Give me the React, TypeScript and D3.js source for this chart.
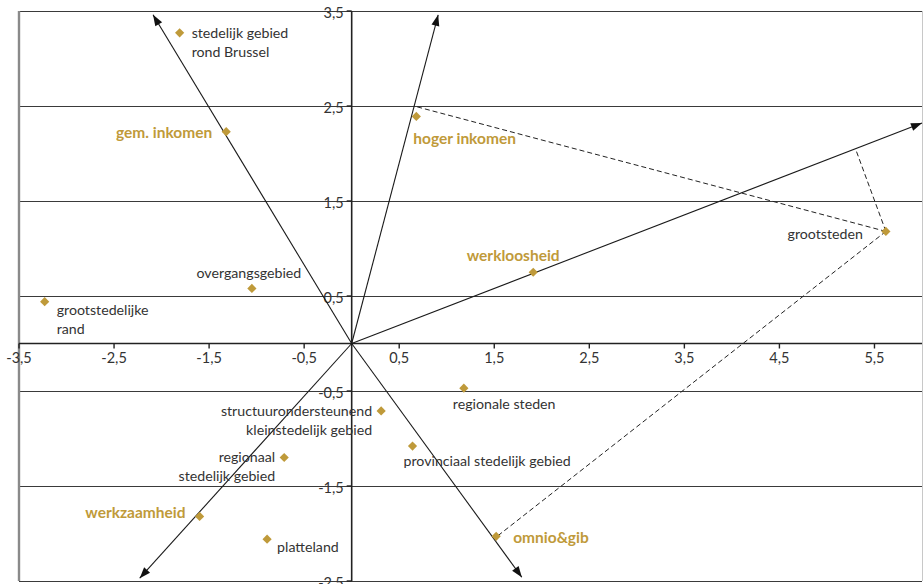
import React from "react";
import * as d3 from "d3";

// ---- data ----
const pointNames = [
  "stedelijk gebied|rond Brussel",
  "gem. inkomen",
  "hoger inkomen",
  "grootsteden",
  "werkloosheid",
  "overgangsgebied",
  "grootstedelijke|rand",
  "regionale steden",
  "structuurondersteunend|kleinstedelijk gebied",
  "provinciaal stedelijk gebied",
  "regionaal|stedelijk gebied",
  "werkzaamheid",
  "platteland",
  "omnio&gib",
];
const pointX = [-1.81, -1.32, 0.68, 5.62, 1.91, -1.05, -3.23, 1.18, 0.31, 0.64, -0.71, -1.6, -0.89, 1.52];
const pointY = [3.27, 2.23, 2.39, 1.18, 0.75, 0.58, 0.44, -0.47, -0.71, -1.08, -1.2, -1.82, -2.06, -2.03];
const pointIsVariable = [false, true, true, false, true, false, false, false, false, false, false, true, false, true];

const arrowX = [-2.09, 0.91, 6.0, -2.23, 1.79];
const arrowY = [3.46, 3.46, 2.32, -2.47, -2.46];

// dashed projection lines: from grootsteden to these ends
const dashFromX = 5.62;
const dashFromY = 1.18;
const dashToX = [0.655, 5.3, 1.53];
const dashToY = [2.5, 2.05, -2.03];

const xTicks = [-3.5, -2.5, -1.5, -0.5, 0.5, 1.5, 2.5, 3.5, 4.5, 5.5];
const yTicks = [3.5, 2.5, 1.5, 0.5, -0.5, -1.5, -2.5];

// ---- label layout (px offsets from marker) ----
const labelDx = [12, -14, -3, -23, -20, -3, 12, -11, -9, -9, -9, -14, 10, 17];
const labelDy = [0, 0, 22, 2, -17, -16, 8, 15, 0, 14, -1, -4, 7, 1];
const labelAnchor = ["start", "end", "start", "end", "middle", "middle", "start", "start", "end", "start", "end", "end", "start", "start"];

const W = 924;
const H = 584;
const GOLD = "#bf9a3a";
const TEXT = "#333333";
const FONT = "Lato, 'Open Sans', sans-serif";

export default function App() {
  const x = d3.scaleLinear().domain([-3.5, 6]).range([19, 922]);
  const y = d3.scaleLinear().domain([-2.5, 3.5]).range([581, 11]);
  const fmt = (v: number) => String(v).replace(".", ",");
  const x0 = x(0);
  const y0 = y(0);

  const arrowHead = (tx: number, ty: number) => {
    const ang = Math.atan2(ty - y0, tx - x0);
    const L = 11;
    const Wd = 4;
    const bx = tx - L * Math.cos(ang);
    const by = ty - L * Math.sin(ang);
    const px = -Math.sin(ang) * Wd;
    const py = Math.cos(ang) * Wd;
    return `M${tx},${ty}L${bx + px},${by + py}L${bx - px},${by - py}Z`;
  };

  return (
    <div style={{ position: "absolute", left: 0, top: 0 }}>
      <svg width={W} height={H} style={{ display: "block", fontFamily: FONT }}>
        <rect x={0} y={0} width={W} height={H} fill="#ffffff" />
        {/* gridlines */}
        {yTicks.map((t) => (
          <line key={"g" + t} x1={x(-3.5)} x2={x(6)} y1={y(t) + 0.5} y2={y(t) + 0.5} stroke="#3a3a3a" strokeWidth={1.2} />
        ))}
        {/* frame left/right */}
        <line x1={x(-3.5)} x2={x(-3.5)} y1={y(3.5)} y2={y(-2.5)} stroke="#8a8a8a" strokeWidth={2.4} />
        <line x1={x(6) + 0.5} x2={x(6) + 0.5} y1={y(3.5)} y2={y(-2.5)} stroke="#c8c8c8" strokeWidth={1} />
        {/* axes */}
        <line x1={x(-3.5)} x2={x(6)} y1={y0} y2={y0} stroke="#222" strokeWidth={1.6} />
        <line x1={x0} x2={x0} y1={y(3.5)} y2={y(-2.5)} stroke="#222" strokeWidth={1.6} />
        {/* ticks */}
        {xTicks.map((t) => (
          <g key={"xt" + t}>
            <line x1={x(t)} x2={x(t)} y1={y0} y2={y0 + 5} stroke="#222" strokeWidth={1.4} />
            <text x={x(t)} y={y0 + 14} textAnchor="middle" dominantBaseline="central" fontSize={14.5} fill={TEXT}>
              {fmt(t)}
            </text>
          </g>
        ))}
        {yTicks.map((t) => (
          <g key={"yt" + t}>
            <line x1={x0 - 5} x2={x0} y1={y(t)} y2={y(t)} stroke="#222" strokeWidth={1.4} />
            <text x={x0 - 8} y={y(t) + 1} textAnchor="end" dominantBaseline="central" fontSize={14.5} fill={TEXT}>
              {fmt(t)}
            </text>
          </g>
        ))}
        {/* arrows */}
        {arrowX.map((ax, i) => (
          <g key={"a" + i}>
            <line x1={x0} y1={y0} x2={x(ax)} y2={y(arrowY[i])} stroke="#1a1a1a" strokeWidth={1.1} />
            <path d={arrowHead(x(ax), y(arrowY[i]))} fill="#111" />
          </g>
        ))}
        {/* dashed projections */}
        {dashToX.map((dx, i) => (
          <line
            key={"d" + i}
            x1={x(dashFromX)}
            y1={y(dashFromY)}
            x2={x(dx)}
            y2={y(dashToY[i])}
            stroke="#222"
            strokeWidth={1}
            strokeDasharray="5,3"
          />
        ))}
        {/* points */}
        {pointX.map((px, i) => {
          const cx = x(px);
          const cy = y(pointY[i]);
          const r = 4.6;
          return (
            <path key={"p" + i} d={`M${cx},${cy - r}L${cx + r},${cy}L${cx},${cy + r}L${cx - r},${cy}Z`} fill={GOLD} />
          );
        })}
        {/* labels */}
        {pointNames.map((name, i) => {
          const cx = x(pointX[i]) + labelDx[i];
          const cy = y(pointY[i]) + labelDy[i];
          const lines = name.split("|");
          const bold = pointIsVariable[i];
          return (
            <text
              key={"l" + i}
              x={cx}
              y={cy}
              textAnchor={labelAnchor[i] as any}
              fontSize={bold ? 15.5 : 14.2}
              fontWeight={bold ? 700 : 400}
              fill={bold ? GOLD : TEXT}
            >
              {lines.map((ln, j) => (
                <tspan key={j} x={cx} y={cy + j * 19} dominantBaseline="central">
                  {ln}
                </tspan>
              ))}
            </text>
          );
        })}
      </svg>
    </div>
  );
}
